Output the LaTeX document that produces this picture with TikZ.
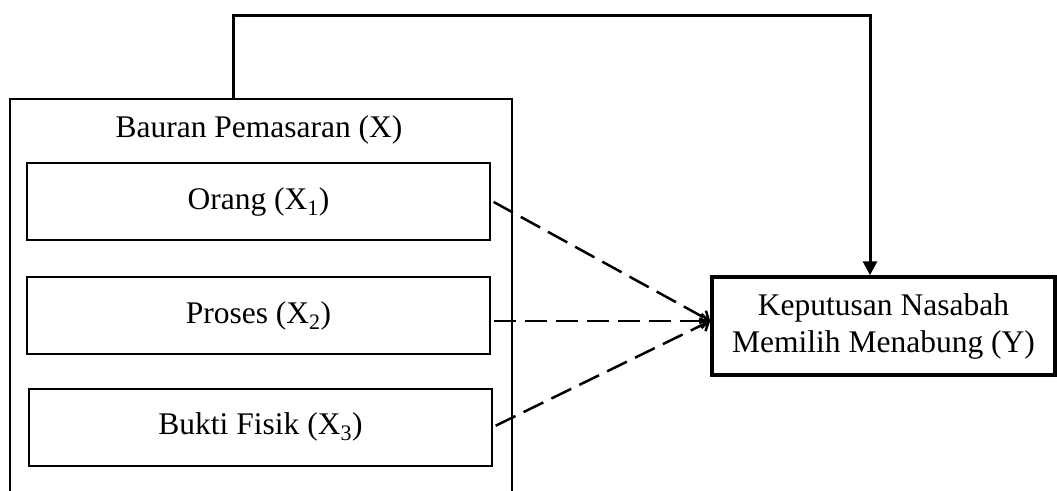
\documentclass[tikz,border=0pt]{standalone}
\usepackage{fontspec}
\setmainfont{Liberation Serif}
\usetikzlibrary{arrows.meta}
\begin{document}
\begin{tikzpicture}[x=1pt,y=-1pt,
  txt/.style={font=\fontsize{31.5}{37}\selectfont},
  inbox/.style={draw,line width=2pt,txt,inner sep=0pt,minimum width=463pt,minimum height=77pt},
  ybox/.style={draw,line width=3.5pt,txt,align=center,inner sep=0pt,minimum width=343pt,minimum height=98pt},
  solidarrow/.style={line width=3pt,-{Triangle[length=14pt,width=14pt]}},
  dasharrow/.style={line width=2.5pt,dash pattern=on 22pt off 9pt,shorten <=3pt,-{Straight Barb[length=7pt,width=14pt]}}
]
\useasboundingbox (0,0) rectangle (1057,490);
% outer box (open at the bottom)
\draw[line width=2.2pt] (10,500) -- (10,99) -- (512,99) -- (512,500);
\node[txt,anchor=base] (title) at (259,137) {Bauran Pemasaran (X)};
\node[inbox] (o) at (258.5,201.5) {Orang (X\textsubscript{1})};
\node[inbox] (p) at (258.5,315.5) {Proses (X\textsubscript{2})};
\node[inbox] (b) at (260.5,427) {Bukti Fisik (X\textsubscript{3})};
\node[ybox] (y) at (883.5,326) {Keputusan Nasabah\\Memilih Menabung (Y)};
\coordinate (s) at (233,99);
\coordinate (c1) at (233,15);
\coordinate (c2) at (870,15);
\draw[solidarrow] (s) -- (c1) -- (c2) -- (c2 |- y.north);
\coordinate (t) at ([yshift=5pt]y.west);
\draw[dasharrow] (o.east) ++(0,-1) -- (t);
\draw[dasharrow] (p.east |- t) -- (t);
\draw[dasharrow] (b.east) -- (t);
\end{tikzpicture}
\end{document}
